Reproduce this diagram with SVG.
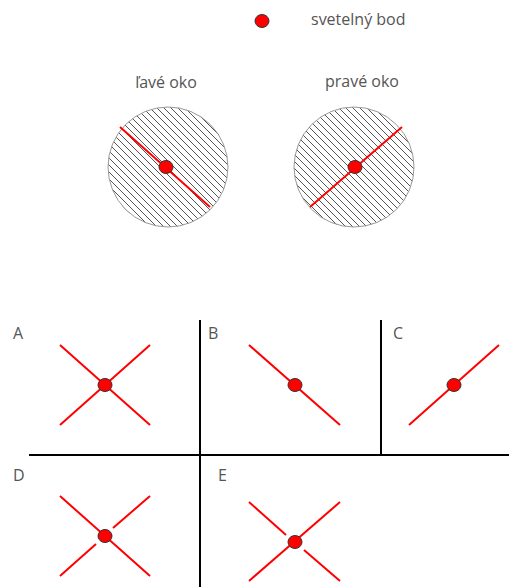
<svg xmlns="http://www.w3.org/2000/svg" width="509" height="587" viewBox="0 0 509 587">
<style>
.t{font-family:"Open Sans","Liberation Sans",sans-serif;font-size:16px;fill:#555}
.r{stroke:#ff0000;stroke-width:2;fill:none}
.k{stroke:#000;stroke-width:2;fill:none}
.dot{fill:#ff0000;stroke:#333;stroke-width:1}
.eye{fill:url(#hatch);stroke:#999;stroke-width:1}
</style>
<defs>
<pattern id="hatch" patternUnits="userSpaceOnUse" width="7" height="7">
<rect width="7" height="7" fill="#fff"/>
<path d="M0,0 L7,7 M-1,6 L1,8 M6,-1 L8,1" stroke="#555" stroke-width="1"/>
</pattern>
</defs>
<rect width="509" height="587" fill="#fff"/>
<g id="legend">
<ellipse class="dot" cx="262" cy="21" rx="7" ry="6.5"/>
<text class="t" x="311" y="25">svetelný bod</text>
</g>
<g id="left-eye">
<text class="t" x="166" y="88" text-anchor="middle">ľavé oko</text>
<circle class="eye" cx="168" cy="167" r="60"/>
<line class="r" x1="120" y1="127" x2="210" y2="207"/>
<ellipse class="dot" cx="166" cy="167" rx="7" ry="6.5"/>
</g>
<g id="right-eye">
<text class="t" x="362" y="87" text-anchor="middle">pravé oko</text>
<circle class="eye" cx="354" cy="167" r="60"/>
<line class="r" x1="310" y1="207" x2="402" y2="127"/>
<ellipse class="dot" cx="355" cy="167" rx="7" ry="6.5"/>
</g>
<g id="connectors">
<line class="k" x1="200" y1="320" x2="200" y2="587"/>
<line class="k" x1="381" y1="320" x2="381" y2="455"/>
<line class="k" x1="29" y1="455" x2="509" y2="455"/>
</g>
<g id="A">
<text class="t" x="13" y="339">A</text>
<line class="r" x1="60" y1="345" x2="150" y2="425"/>
<line class="r" x1="150" y1="345" x2="60" y2="425"/>
<ellipse class="dot" cx="105" cy="385" rx="7" ry="6.5"/>
</g>
<g id="B">
<text class="t" x="208" y="339">B</text>
<line class="r" x1="249" y1="345" x2="340" y2="425"/>
<ellipse class="dot" cx="295" cy="385" rx="7" ry="6.5"/>
</g>
<g id="C">
<text class="t" x="393" y="339">C</text>
<line class="r" x1="409" y1="425" x2="499" y2="345"/>
<ellipse class="dot" cx="454" cy="385" rx="7" ry="6.5"/>
</g>
<g id="D">
<text class="t" x="13" y="481">D</text>
<line class="r" x1="60" y1="496" x2="150" y2="576"/>
<line class="r" x1="60" y1="576" x2="96" y2="544"/>
<line class="r" x1="113" y1="528" x2="150" y2="496"/>
<ellipse class="dot" cx="105" cy="536" rx="7" ry="6.5"/>
</g>
<g id="E">
<text class="t" x="218" y="481">E</text>
<line class="r" x1="249" y1="581" x2="340" y2="502"/>
<line class="r" x1="249" y1="502" x2="286" y2="535"/>
<line class="r" x1="304" y1="550" x2="340" y2="581"/>
<ellipse class="dot" cx="295" cy="542" rx="7" ry="6.5"/>
</g>
</svg>
